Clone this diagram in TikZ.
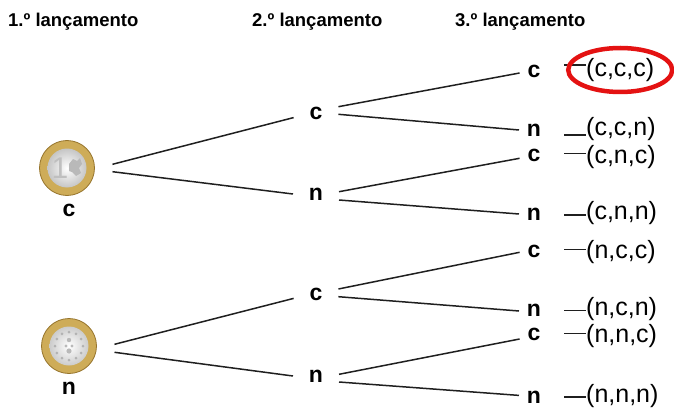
\documentclass[tikz,border=0pt]{standalone}
\usepackage{fontspec}
\setmainfont{Liberation Sans}
\definecolor{coingold}{RGB}{206,172,88}
\definecolor{coinedge}{RGB}{150,116,44}
\definecolor{pickred}{RGB}{228,18,18}
\begin{document}
\begin{tikzpicture}[x=1pt, y=-1pt,
            head/.style={font=\bfseries\fontsize{18.5}{20}\selectfont, anchor=base west, inner sep=0pt},
            face/.style={font=\bfseries\fontsize{23}{24}\selectfont, inner sep=0pt},
            midface/.style={face, outer xsep=16pt},
            endface/.style={face, outer xsep=8pt},
            result/.style={font=\fontsize{25}{26}\selectfont, anchor=west, inner sep=0pt},
            coin/.style={circle, minimum size=55pt, inner sep=0pt, outer xsep=18pt, fill=coingold, draw=coinedge, line width=0.8pt},
            branch/.style={line width=1.5pt, draw=black!88},
            tick/.style={line width=1.3pt, draw=black!88},
            pick/.style={line width=4.5pt, draw=pickred}]

            \useasboundingbox (0,0) rectangle (674,409);

            \node[head] (h1) at (8,27) {1.º lançamento};
            \node[head] (h2) at (252,27) {2.º lançamento};
            \node[head] (h3) at (455,27) {3.º lançamento};

            % coins
            \node[coin] (c) at (67,168) {};
            \node[coin] (n) at (69,346) {};
            \shade[inner color=white, outer color=gray!45] (c.center) circle[radius=19.5pt];
            \shade[inner color=white, outer color=gray!40] (n.center) circle[radius=19.5pt];
            \node[font=\fontsize{30}{30}\selectfont, text=gray!50] at ([xshift=-7pt]c.center) {1};
            \fill[gray!55] ([shift={(2,-4)}]c.center) -- ++(4,-5) -- ++(4,2) -- ++(3,-3) -- ++(2,6) -- ++(-3,4) -- ++(2,5) -- ++(-5,3) -- ++(-4,-4) -- ++(-3,-1) -- cycle;
            \foreach \a in {0,30,...,330}
                \fill[gray!60] ([shift={(\a:14pt)}]n.center) circle[radius=1.5pt];
            \fill[gray!55] ([yshift=6pt]n.center) circle[radius=2.2pt] ([yshift=-5pt]n.center) circle[radius=2.6pt] ([xshift=-3pt]n.center) circle[radius=1.6pt] ([xshift=3pt]n.center) circle[radius=1.6pt];

            \node[face] (cl) at (69,210) {c};
            \node[face] (nl) at (69,388) {n};

            % 2nd toss
            \node[midface] (cc) at (316,113) {c};
            \node[midface] (cn) at (316,194) {n};
            \node[midface] (nc) at (316,294) {c};
            \node[midface] (nn) at (316,376) {n};

            % 3rd toss
            \node[endface] (ccc) at (534,71) {c};
            \node[endface] (ccn) at (534,130) {n};
            \node[endface] (cnc) at (534,155) {c};
            \node[endface] (cnn) at (534,214) {n};
            \node[endface] (ncc) at (534,251) {c};
            \node[endface] (ncn) at (534,310) {n};
            \node[endface] (nnc) at (534,334) {c};
            \node[endface] (nnn) at (534,397) {n};

            % outcomes
            \node[result] (occc) at (586,70) {(c,c,c)};
            \node[result] (occn) at (586,129) {(c,c,n)};
            \node[result] (ocnc) at (586,157) {(c,n,c)};
            \node[result] (ocnn) at (586,213) {(c,n,n)};
            \node[result] (oncc) at (586,252) {(n,c,c)};
            \node[result] (oncn) at (586,309) {(n,c,n)};
            \node[result] (onnc) at (586,336) {(n,n,c)};
            \node[result] (onnn) at (586,396) {(n,n,n)};

            \draw[branch] ([yshift=3.7pt]c.east) -- ([yshift=-4.6pt]cc.west);
            \draw[branch] ([yshift=-3.7pt]c.east) -- (cn.west);
            \draw[branch] ([yshift=1.7pt]n.east) -- ([yshift=-4.4pt]nc.west);
            \draw[branch] ([yshift=-6.3pt]n.east) -- (nn.west);

            \draw[branch] ([yshift=6.3pt]cc.east) -- ([yshift=-2pt]ccc.west);
            \draw[branch] ([yshift=-1.3pt]cc.east) -- (ccn.west);
            \draw[branch] ([yshift=2.3pt]cn.east) -- ([yshift=-3.3pt]cnc.west);
            \draw[branch] ([yshift=-6pt]cn.east) -- (cnn.west);
            \draw[branch] ([yshift=5pt]nc.east) -- ([yshift=-1.3pt]ncc.west);
            \draw[branch] ([yshift=-2.7pt]nc.east) -- ([yshift=-1pt]ncn.west);
            \draw[branch] ([yshift=1.7pt]nn.east) -- ([yshift=-5pt]nnc.west);
            \draw[branch] ([yshift=-6pt]nn.east) -- ([yshift=1.6pt]nnn.west);

            \draw[tick] ([xshift=-22pt,yshift=5pt]occc.west) -- ([yshift=5pt]occc.west);
            \draw[tick] ([xshift=-22pt,yshift=-6pt]occn.west) -- ([yshift=-6pt]occn.west);
            \draw[tick] ([xshift=-22pt,yshift=3.5pt]ocnc.west) -- ([yshift=3.5pt]ocnc.west);
            \draw[tick] ([xshift=-22pt,yshift=-2pt]ocnn.west) -- ([yshift=-2pt]ocnn.west);
            \draw[tick] ([xshift=-22pt,yshift=2.5pt]oncc.west) -- ([yshift=2.5pt]oncc.west);
            \draw[tick] ([xshift=-22pt,yshift=-1.5pt]oncn.west) -- ([yshift=-1.5pt]oncn.west);
            \draw[tick] ([xshift=-22pt,yshift=2.7pt]onnc.west) -- ([yshift=2.7pt]onnc.west);
            \draw[tick] ([xshift=-22pt,yshift=-1pt]onnn.west) -- ([yshift=-1pt]onnn.west);

            \draw[pick] (occc.center) ellipse[x radius=52pt, y radius=22pt];

\end{tikzpicture}
\end{document}
